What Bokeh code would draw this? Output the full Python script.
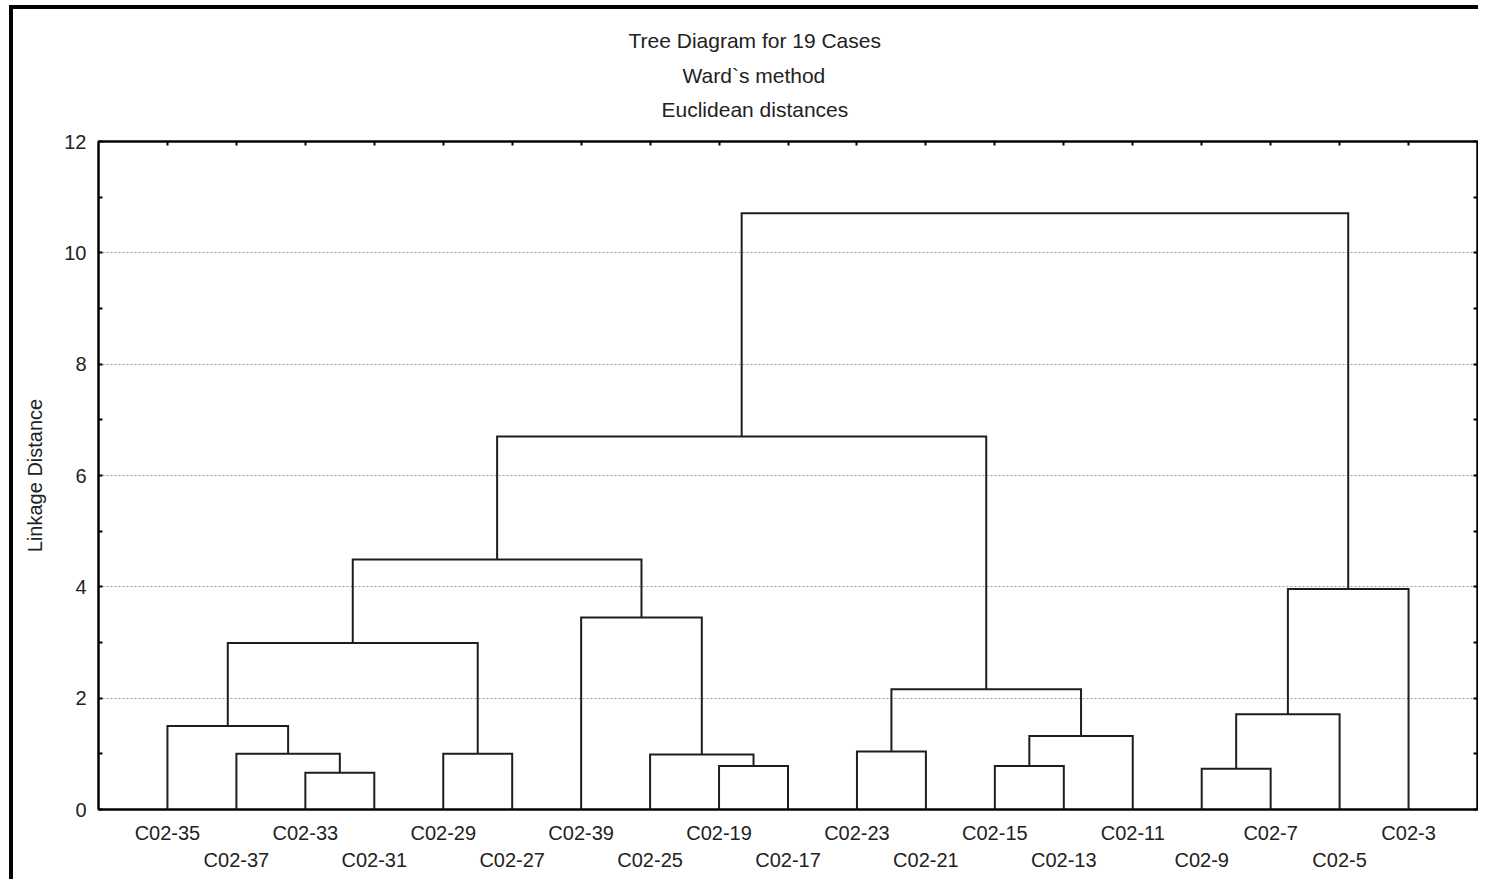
from bokeh.plotting import figure
from bokeh.models import LinearAxis, FixedTicker, Title, Range1d, Grid
from bokeh.embed import file_html
from bokeh.resources import INLINE

# ---- data ----
leaf_names = ["C02-35", "C02-37", "C02-33", "C02-31", "C02-29", "C02-27", "C02-39",
              "C02-25", "C02-19", "C02-17", "C02-23", "C02-21", "C02-15", "C02-13",
              "C02-11", "C02-9", "C02-7", "C02-5", "C02-3"]
# merges (scipy-like): cluster id = 19 + index
merge_left = [2, 15, 8, 12, 1, 4, 7, 10, 22, 0, 20, 26, 28, 6, 29, 31, 34, 35]
merge_right = [3, 16, 9, 13, 19, 5, 21, 11, 14, 23, 17, 27, 24, 25, 18, 32, 30, 33]
merge_height = [0.66, 0.73, 0.78, 0.78, 1.00, 1.00, 0.99, 1.04, 1.32, 1.50,
                1.71, 2.16, 2.99, 3.45, 3.96, 4.49, 6.70, 10.71]
y_ticks = [0, 2, 4, 6, 8, 10, 12]
y_minor = [1, 3, 5, 7, 9, 11]
grid_ticks = [2, 4, 6, 8, 10]
title_lines = ["Tree Diagram for 19 Cases", "Ward`s method", "Euclidean distances"]
y_label = "Linkage Distance"

n = len(leaf_names)
pos = [i + 1 for i in range(n)]
hgt = [0.0] * n
xs, ys = [], []
for l, r, h in zip(merge_left, merge_right, merge_height):
    xl, xr = pos[l], pos[r]
    xs.append([xl, xl, xr, xr])
    ys.append([hgt[l], h, h, hgt[r]])
    pos.append((xl + xr) / 2)
    hgt.append(h)

FONT = "Liberation Sans"
TXT = "#222222"

p = figure(width=1465, height=870, x_range=Range1d(0, n + 1), y_range=Range1d(0, 12),
           x_axis_type=None, y_axis_type=None, output_backend="svg",
           toolbar_location=None, title=None,
           min_border_left=85, min_border_right=5, min_border_top=132, min_border_bottom=74)
p.styles = {"border-top": "4px solid black", "border-left": "4px solid black",
            "margin-top": "5px", "margin-left": "9px", "box-sizing": "content-box"}
p.outline_line_color = "#111111"
p.outline_line_width = 2
p.background_fill_color = "white"
p.border_fill_color = "white"

# grid
p.add_layout(Grid(dimension=1, ticker=FixedTicker(ticks=grid_ticks),
                  grid_line_color="#9a9a9a", grid_line_dash="2 2", grid_line_width=1))

# left axis
la = LinearAxis(ticker=FixedTicker(ticks=y_ticks, minor_ticks=y_minor), axis_label=y_label)
la.major_tick_in = 4
la.major_tick_out = 0
la.minor_tick_in = 4
la.minor_tick_out = 0
la.axis_line_width = 2
la.major_tick_line_width = 2
la.minor_tick_line_width = 2
la.major_label_text_font = FONT
la.major_label_text_font_size = "20px"
la.major_label_text_color = TXT
la.major_label_standoff = 12
la.axis_label_text_font = FONT
la.axis_label_text_font_size = "20px"
la.axis_label_text_font_style = "normal"
la.axis_label_text_color = TXT
la.axis_label_standoff = 15
p.add_layout(la, "left")

# right axis (ticks only)
ra = LinearAxis(ticker=FixedTicker(ticks=y_ticks, minor_ticks=y_minor),
                major_label_overrides={t: "" for t in y_ticks})
ra.major_tick_in = 4
ra.major_tick_out = 0
ra.minor_tick_in = 4
ra.minor_tick_out = 0
ra.axis_line_width = 2
ra.major_tick_line_width = 2
ra.minor_tick_line_width = 2
ra.major_label_standoff = 0
p.add_layout(ra, "right")

# top axis (ticks at leaves)
leaf_ticks = list(range(1, n + 1))
ta = LinearAxis(ticker=FixedTicker(ticks=leaf_ticks, minor_ticks=[]),
                major_label_overrides={t: "" for t in leaf_ticks})
ta.major_tick_in = 4
ta.major_tick_out = 0
ta.axis_line_width = 2
ta.major_tick_line_width = 2
ta.major_label_standoff = 0
p.add_layout(ta, "above")

# invisible spacer between the frame and the titles
sp = LinearAxis(ticker=FixedTicker(ticks=[n + 1], minor_ticks=[]),
                major_label_overrides={n + 1: ""})
sp.axis_line_color = None
sp.major_tick_line_color = None
sp.minor_tick_line_color = None
sp.major_tick_in = 0
sp.major_tick_out = 16
sp.major_label_standoff = 0
p.add_layout(sp, "above")

# bottom axes: alternating rows of leaf labels
odd = list(range(1, n + 1, 2))
even = list(range(2, n + 1, 2))
b1 = LinearAxis(ticker=FixedTicker(ticks=odd, minor_ticks=[]),
                major_label_overrides={t: leaf_names[t - 1] for t in odd})
b2 = LinearAxis(ticker=FixedTicker(ticks=even, minor_ticks=[]),
                major_label_overrides={t: leaf_names[t - 1] for t in even})
for ax, so in ((b1, 12), (b2, 2)):
    ax.major_tick_in = 0
    ax.major_tick_out = 0
    ax.major_label_text_font = FONT
    ax.major_label_text_font_size = "20px"
    ax.major_label_text_color = TXT
    ax.major_label_standoff = so
b1.axis_line_width = 2
b2.axis_line_color = None
p.add_layout(b1, "below")
p.add_layout(b2, "below")

# titles (added bottom line first), left-aligned with offsets to centre them at x~754
for txt, so, off in zip(reversed(title_lines), (10, 8, 12), (563, 584, 530)):
    p.add_layout(Title(text=txt, align="left", offset=off, text_font=FONT,
                       text_font_size="21px", text_font_style="normal",
                       text_color=TXT, standoff=so), "above")

# dendrogram
p.multi_line(xs, ys, line_color="#1e1e1e", line_width=2, line_join="miter")

open("out.html", "w").write(file_html(p, INLINE))
